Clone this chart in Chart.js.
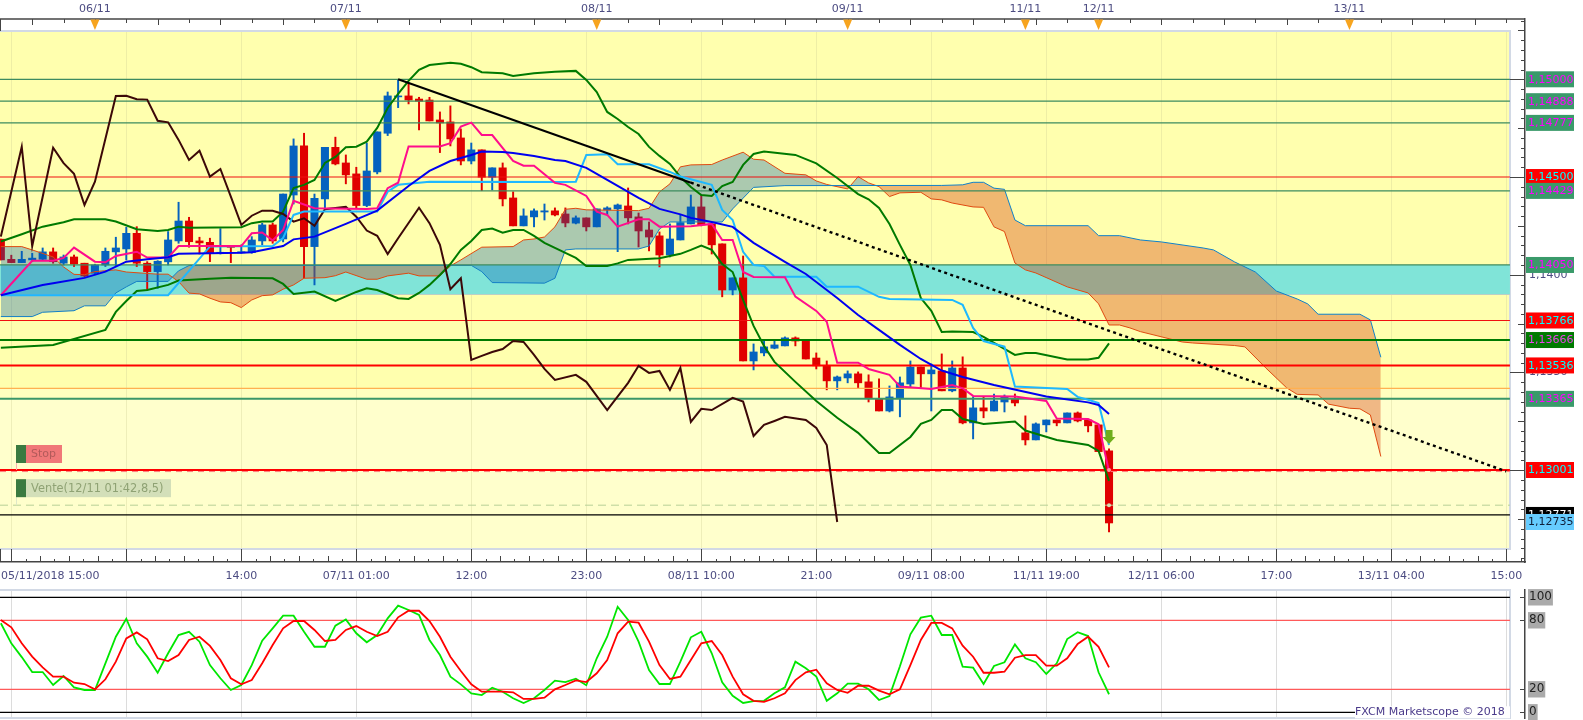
<!DOCTYPE html>
<html>
<head>
<meta charset="utf-8">
<title>EUR/USD FXCM Marketscope</title>
<script src="https://cdn.jsdelivr.net/npm/chart.js@4/dist/chart.umd.min.js"></script>
<style>
  html, body { margin: 0; padding: 0; background: #fff; overflow: hidden; }
  canvas { position: absolute; left: 0; }
  #priceChart { top: 0; }
  #stochChart { top: 585px; }
</style>
</head>
<body>
<canvas id="priceChart" width="1583" height="585"></canvas>
<canvas id="stochChart" width="1583" height="135"></canvas>
<script>
// Candles, one per bar from bar -1 to bar 105
const firstBar = -1;
const opens = [1.14182,1.14079,1.14062,1.14076,1.14079,1.14117,1.14059,1.14091,1.14059,1.14008,1.14050,1.14117,1.14132,1.14212,1.14059,1.14016,1.14066,1.14173,1.14275,1.14173,1.14166,1.14108,1.14145,1.14112,1.14113,1.14173,1.14255,1.14183,1.14408,1.14659,1.14144,1.14388,1.14652,1.14572,1.14516,1.14354,1.14526,1.14724,1.14910,1.14915,1.14899,1.14894,1.14792,1.14782,1.14700,1.14582,1.14639,1.14499,1.14547,1.14393,1.14250,1.14296,1.14321,1.14327,1.14311,1.14264,1.14291,1.14245,1.14332,1.14337,1.14352,1.14296,1.14229,1.14199,1.14101,1.14178,1.14260,1.14347,1.14260,1.14158,1.13922,1.13984,1.13559,1.13600,1.13624,1.13636,1.13677,1.13661,1.13574,1.13534,1.13457,1.13472,1.13493,1.13452,1.13363,1.13303,1.13370,1.13441,1.13528,1.13493,1.13508,1.13406,1.13523,1.13242,1.13319,1.13303,1.13349,1.13365,1.13191,1.13155,1.13232,1.13257,1.13242,1.13293,1.13257,1.13232,1.13099];
const closes = [1.14076,1.14062,1.14079,1.14085,1.14117,1.14067,1.14091,1.14055,1.13994,1.14050,1.14120,1.14137,1.14212,1.14059,1.14016,1.14069,1.14178,1.14275,1.14169,1.14163,1.14110,1.14115,1.14140,1.14118,1.14178,1.14255,1.14173,1.14413,1.14659,1.14144,1.14391,1.14652,1.14567,1.14511,1.14354,1.14531,1.14731,1.14915,1.14915,1.14894,1.14888,1.14787,1.14777,1.14695,1.14582,1.14639,1.14499,1.14547,1.14388,1.14250,1.14301,1.14327,1.14327,1.14306,1.14265,1.14291,1.14245,1.14337,1.14342,1.14357,1.14291,1.14224,1.14193,1.14101,1.14183,1.14267,1.14347,1.14255,1.14153,1.13922,1.13984,1.13559,1.13605,1.13631,1.13641,1.13677,1.13661,1.13569,1.13534,1.13457,1.13477,1.13493,1.13447,1.13370,1.13303,1.13375,1.13447,1.13528,1.13493,1.13513,1.13406,1.13523,1.13242,1.13319,1.13303,1.13354,1.13375,1.13344,1.13155,1.13237,1.13257,1.13242,1.13293,1.13252,1.13227,1.13095,1.12730];
const highs = [1.14182,1.14100,1.14120,1.14110,1.14137,1.14137,1.14101,1.14101,1.14059,1.14054,1.14137,1.14192,1.14243,1.14246,1.14067,1.14072,1.14221,1.14371,1.14294,1.14192,1.14187,1.14236,1.14145,1.14153,1.14195,1.14264,1.14264,1.14413,1.14695,1.14724,1.14413,1.14652,1.14704,1.14613,1.14550,1.14673,1.14731,1.14935,1.14997,1.14980,1.14908,1.14908,1.14833,1.14864,1.14746,1.14674,1.14639,1.14547,1.14572,1.14424,1.14337,1.14337,1.14362,1.14342,1.14342,1.14301,1.14291,1.14337,1.14348,1.14362,1.14444,1.14316,1.14270,1.14219,1.14260,1.14306,1.14408,1.14408,1.14260,1.14158,1.13984,1.14096,1.13646,1.13661,1.13661,1.13682,1.13682,1.13661,1.13600,1.13559,1.13482,1.13508,1.13503,1.13488,1.13467,1.13431,1.13477,1.13559,1.13528,1.13544,1.13595,1.13559,1.13580,1.13375,1.13375,1.13390,1.13385,1.13390,1.13278,1.13242,1.13257,1.13257,1.13293,1.13298,1.13257,1.13232,1.13109];
const lows = [1.14076,1.14062,1.14062,1.14067,1.14072,1.14059,1.14050,1.14042,1.13990,1.14000,1.14042,1.14042,1.14076,1.14042,1.13922,1.13931,1.14050,1.14161,1.14141,1.14106,1.14067,1.14106,1.14062,1.14110,1.14110,1.14153,1.14161,1.14168,1.14362,1.13984,1.13948,1.14342,1.14562,1.14465,1.14342,1.14348,1.14516,1.14712,1.14855,1.14874,1.14741,1.14787,1.14625,1.14659,1.14562,1.14567,1.14430,1.14434,1.14352,1.14250,1.14250,1.14245,1.14280,1.14301,1.14245,1.14260,1.14224,1.14245,1.14306,1.14118,1.14260,1.14142,1.14122,1.14040,1.14091,1.14178,1.14260,1.14250,1.14106,1.13887,1.13897,1.13559,1.13513,1.13585,1.13621,1.13636,1.13636,1.13569,1.13518,1.13411,1.13411,1.13447,1.13421,1.13349,1.13303,1.13298,1.13273,1.13421,1.13421,1.13303,1.13406,1.13401,1.13237,1.13160,1.13268,1.13303,1.13298,1.13329,1.13129,1.13155,1.13196,1.13227,1.13242,1.13247,1.13196,1.13095,1.12684];

// Bollinger bands
const upperBandBars = [-1,1,3,5,6,9,10,12,14,15,16,17,22,23,24,25,26,27,28,29,30,31,32,33,34,35,36,37,38,39,40,42,43,44,45,47,48,50,52,54,55,56,57,58,59,60,61,62,63,64,65,66,67,68,69,70,71,72,75,77,79,81,82,83,84,85,86,87,88,89,90,92,93,94,96,97,98,101,103,104,105];
const upperBandValues = [1.14170,1.14207,1.14246,1.14269,1.14284,1.14284,1.14272,1.14233,1.14224,1.14229,1.14246,1.14241,1.14243,1.14264,1.14272,1.14272,1.14323,1.14444,1.14460,1.14485,1.14572,1.14603,1.14652,1.14655,1.14681,1.14751,1.14853,1.14925,1.14992,1.15048,1.15073,1.15085,1.15079,1.15062,1.15036,1.15031,1.15017,1.15031,1.15038,1.15043,1.14997,1.14935,1.14833,1.14797,1.14756,1.14720,1.14654,1.14608,1.14567,1.14500,1.14449,1.14408,1.14403,1.14454,1.14475,1.14562,1.14618,1.14630,1.14613,1.14570,1.14495,1.14413,1.14386,1.14342,1.14260,1.14153,1.14050,1.13881,1.13815,1.13707,1.13710,1.13707,1.13682,1.13651,1.13590,1.13600,1.13600,1.13567,1.13567,1.13575,1.13649];
const lowerBandBars = [-1,4,9,10,11,12,13,15,16,19,21,25,26,27,29,31,33,34,35,37,38,39,40,41,42,43,44,45,46,47,48,49,50,51,53,54,55,57,58,59,62,64,65,66,67,68,69,70,71,72,73,75,77,79,81,83,84,86,87,88,89,90,91,93,96,97,100,103,104,105];
const lowerBandValues = [1.13626,1.13641,1.13718,1.13810,1.13866,1.13917,1.13922,1.13948,1.13970,1.13979,1.13985,1.13982,1.13953,1.13902,1.13914,1.13866,1.13912,1.13931,1.13922,1.13880,1.13876,1.13907,1.13948,1.13999,1.14055,1.14127,1.14173,1.14229,1.14236,1.14215,1.14229,1.14229,1.14199,1.14163,1.14112,1.14086,1.14045,1.14045,1.14058,1.14076,1.14085,1.14107,1.14127,1.14149,1.14127,1.14055,1.14014,1.13871,1.13738,1.13636,1.13554,1.13452,1.13354,1.13268,1.13191,1.13088,1.13088,1.13170,1.13237,1.13257,1.13308,1.13308,1.13262,1.13237,1.13249,1.13203,1.13155,1.13129,1.13099,1.12945];
const middleBandBars = [-1,3,4,7,9,11,13,15,16,22,23,26,27,29,32,35,38,40,42,44,45,47,48,50,52,53,55,57,59,60,62,64,65,67,69,71,74,76,79,81,83,85,87,89,91,94,99,103,104,105];
const middleBandValues = [1.13895,1.13948,1.13957,1.13984,1.14016,1.14067,1.14079,1.14090,1.14107,1.14112,1.14115,1.14147,1.14181,1.14195,1.14260,1.14328,1.14454,1.14531,1.14582,1.14613,1.14630,1.14628,1.14623,1.14608,1.14587,1.14582,1.14547,1.14485,1.14424,1.14393,1.14337,1.14309,1.14291,1.14270,1.14245,1.14163,1.14066,1.14004,1.13881,1.13794,1.13718,1.13641,1.13569,1.13510,1.13477,1.13436,1.13377,1.13347,1.13334,1.13288];

// Ichimoku lines
const tenkanBars = [-1,2,4,5,6,8,9,10,12,13,15,16,22,23,24,25,26,27,29,34,35,36,37,38,41,42,43,44,45,46,48,49,50,52,53,55,56,57,58,60,61,62,65,67,68,69,70,71,74,75,77,78,79,81,82,84,85,88,90,91,92,96,99,100,103,104,105];
const tenkanValues = [1.13895,1.14071,1.14072,1.14086,1.14139,1.14067,1.14064,1.14096,1.14118,1.14088,1.14088,1.14147,1.14147,1.14212,1.14216,1.14175,1.14229,1.14378,1.14340,1.14337,1.14340,1.14443,1.14471,1.14656,1.14656,1.14673,1.14758,1.14778,1.14715,1.14715,1.14582,1.14558,1.14558,1.14470,1.14460,1.14403,1.14323,1.14306,1.14246,1.14284,1.14284,1.14246,1.14248,1.14260,1.14178,1.14178,1.14014,1.13989,1.13987,1.13888,1.13815,1.13759,1.13550,1.13550,1.13518,1.13488,1.13428,1.13416,1.13436,1.13419,1.13380,1.13377,1.13354,1.13264,1.13262,1.13235,1.12993];
const kijunBars = [-1,15,19,25,26,27,28,35,36,37,40,53,54,55,57,58,61,63,64,67,68,69,70,71,72,73,77,78,81,83,84,90,91,92,93,95,96,101,102,103,104,105];
const kijunValues = [1.13895,1.13895,1.14145,1.14147,1.14188,1.14306,1.14323,1.14323,1.14425,1.14460,1.14476,1.14475,1.14476,1.14613,1.14617,1.14565,1.14565,1.14526,1.14503,1.14460,1.14332,1.14280,1.14117,1.14050,1.14045,1.13990,1.13990,1.13939,1.13939,1.13887,1.13876,1.13871,1.13846,1.13728,1.13661,1.13632,1.13428,1.13416,1.13375,1.13360,1.13344,1.13129];
const chikouBars = [-1,1,2,4,5,6,7,8,10,11,12,13,14,15,16,17,18,19,20,21,22,23,24,25,26,27,28,29,30,32,33,34,35,36,37,39,40,41,42,43,44,45,46,47,48,49,50,51,52,54,55,57,59,60,61,62,63,64,65,66,67,69,70,71,72,73,74,76,77,78,79];
const chikouValues = [1.14195,1.14655,1.14147,1.14650,1.14571,1.14516,1.14357,1.14476,1.14915,1.14916,1.14898,1.14896,1.14788,1.14780,1.14690,1.14587,1.14635,1.14502,1.14541,1.14400,1.14255,1.14302,1.14328,1.14327,1.14311,1.14272,1.14289,1.14250,1.14335,1.14348,1.14297,1.14226,1.14199,1.14106,1.14187,1.14343,1.14264,1.14153,1.13926,1.13982,1.13564,1.13585,1.13605,1.13620,1.13661,1.13656,1.13590,1.13518,1.13462,1.13488,1.13452,1.13308,1.13447,1.13534,1.13498,1.13508,1.13411,1.13523,1.13247,1.13314,1.13308,1.13370,1.13351,1.13175,1.13232,1.13252,1.13273,1.13257,1.13216,1.13129,1.12735];
const spanABars = [-1,1,2,4,5,6,7,8,10,11,14,15,16,17,18,19,20,21,22,23,24,25,26,27,28,30,31,32,34,35,36,38,39,41,42,43,45,48,49,50,51,52,53,54,55,60,61,62,63,64,65,67,68,70,71,72,74,76,77,78,80,81,82,83,84,85,87,88,89,90,92,93,94,95,96,97,98,101,103,104,105,106,107,108,112,113,117,118,120,122,123,125,126,128,129,130,131];
const spanAValues = [1.14144,1.14144,1.14127,1.14091,1.14040,1.14002,1.14000,1.14016,1.14025,1.14014,1.14003,1.14003,1.13965,1.13906,1.13902,1.13880,1.13861,1.13857,1.13832,1.13871,1.13893,1.13897,1.13926,1.13948,1.13982,1.13985,1.13995,1.14014,1.13977,1.13977,1.13994,1.14008,1.13994,1.13994,1.14045,1.14076,1.14141,1.14144,1.14178,1.14183,1.14193,1.14245,1.14335,1.14340,1.14332,1.14328,1.14340,1.14424,1.14465,1.14552,1.14562,1.14564,1.14587,1.14627,1.14591,1.14587,1.14519,1.14511,1.14480,1.14462,1.14439,1.14502,1.14470,1.14451,1.14400,1.14419,1.14422,1.14388,1.14383,1.14367,1.14347,1.14345,1.14245,1.14221,1.14060,1.14025,1.14009,1.13938,1.13907,1.13851,1.13743,1.13743,1.13728,1.13709,1.13656,1.13651,1.13638,1.13631,1.13523,1.13421,1.13388,1.13385,1.13338,1.13317,1.13314,1.13283,1.13070];
const spanBBars = [-1,2,3,6,7,9,10,11,12,15,16,17,44,45,46,51,52,53,54,60,61,62,63,68,69,71,74,89,91,92,93,94,95,96,97,103,104,106,108,110,114,115,117,119,121,123,124,125,129,130,131];
const spanBValues = [1.13786,1.13786,1.13808,1.13816,1.13841,1.13841,1.13907,1.13938,1.13966,1.13966,1.14020,1.14047,1.14048,1.14016,1.13960,1.13957,1.13982,1.14127,1.14132,1.14132,1.14147,1.14234,1.14270,1.14270,1.14337,1.14447,1.14456,1.14457,1.14460,1.14473,1.14473,1.14443,1.14437,1.14280,1.14251,1.14251,1.14200,1.14200,1.14178,1.14168,1.14137,1.14127,1.14066,1.14014,1.13917,1.13876,1.13851,1.13798,1.13798,1.13769,1.13578];

// Trend line, solid part then dotted projection
const trendSolidBars = [37, 65];
const trendSolidValues = [1.15000, 1.14471];
const trendDottedBars = [65, 143];
const trendDottedValues = [1.14471, 1.12994];

// Horizontal levels
const greenLevels = [1.15000, 1.14888, 1.14777, 1.14429, 1.14050];
const redLevels = [1.14500, 1.13766];
const darkGreenLevel = 1.13666;
const boldRedLevel = 1.13536;
const orangeLevel = 1.13419;
const seaGreenLevel = 1.13365;
const stopLevel = 1.13001;
const entryLevel = 1.12821;
const closeLevel = 1.12771;
const bidLevel = 1.12735;
const bandTop = 1.14050;
const bandBottom = 1.13900;

// Time axis
const timeTickBars = [0, 11, 22, 33, 44, 55, 66, 77, 88, 99, 110, 121, 132, 143];
const timeTickLabels = ['05/11/2018 15:00', '', '14:00', '07/11 01:00', '12:00', '23:00', '08/11 10:00', '21:00', '09/11 08:00', '11/11 19:00', '12/11 06:00', '17:00', '13/11 04:00', '15:00'];
const dateMarkerBars = [8, 32, 56, 80, 97, 104, 128];
const dateMarkerLabels = ['06/11', '07/11', '08/11', '09/11', '11/11', '12/11', '13/11'];
const sellSignalBar = 105;

// Stochastic, one value per bar from bar -1 to bar 105
const stochK = [77.4,60,48,35,35,23.7,31.6,21.7,19.4,19.4,42.6,65.7,81.4,60,48.4,34.5,51.3,67.2,70,61.4,41,29.6,19.4,23.7,41,62.3,73,84,84,70,57,57,75.3,80.8,68.7,60.9,67.2,81.7,92.7,89,84.6,62.9,49.8,31,24.3,16.5,15,21.4,17.9,12.2,8.1,12.2,19.4,27.5,26.3,29.2,23.5,47,65.7,91.8,80.3,61.4,36.8,24.6,24.6,44,65.2,70,51.3,26,14.4,8.1,9.8,10,16.5,21.7,44,38.3,31,10,16.5,24.9,24.9,20,10.7,14.2,40,67.8,82.3,84,67.2,67.2,39.7,38.8,24.6,40.3,43.5,59.1,47,43.5,33.3,42.6,63.7,69.6,66.3,34.8,15.7];
const stochD = [80.3,73.9,60,48.4,39.1,31,31,25.7,24.6,20,28.7,44,64.3,69.5,63.5,47,44.6,49.8,62.9,65.7,57.7,45.5,29.6,24.3,28,42.6,58.5,73,79.4,79.4,71.6,62,62.9,71.6,75,70,66.3,70,82.6,88.3,88.3,79.4,65.7,48.3,35.9,24.3,17.9,17.9,17.9,17.4,11.6,11.6,12.7,20,23.7,27.8,26.3,33.9,45.5,68.7,78.8,77.9,61.4,41,29,31,45.5,60,62,49.8,31,15.7,10,9,12.2,16.5,28,34.8,37,25.2,19.4,17,23.1,23.1,18.8,15.7,20,41,62.9,77.7,77.7,73,57.9,48.3,34.4,34.4,35.3,47.5,49.8,49.8,40.5,40.5,47,59.4,65.7,57,39.1];
const stochBounds = [100, 0];
const stochGuides = [80, 20];
const stochTicks = [0, 20, 80, 100];

// Layout of the plot inside the chart area (the gutters stay white)
const PLOT_TOP = 31;
const PLOT_RIGHT = 1510;
const PLOT_BOTTOM = 549;
const X_MIN = -1.081;
const X_MAX = 144.79;
const LEVEL_END_BAR = 143.35;
const AXIS_COLOR = '#444444';
const TEXT_COLOR = '#4c4c82';
const UP_COLOR = '#0562bf';
const DOWN_COLOR = '#e00000';
const FONT = '11px "DejaVu Sans"';

Chart.defaults.font.family = '"DejaVu Sans"';
Chart.defaults.font.size = 11;

const toPoints = (bars, values) => bars.map((x, k) => ({ x: x, y: values[k] }));
const flat = v => [{ x: X_MIN, y: v }, { x: LEVEL_END_BAR, y: v }];
const priceText = v => v.toFixed(5).replace('.', ',');

// The gutters are sized by hand, so no label padding may shrink the plot
function fitSide(s) {
  s.width = 58;
  s.paddingTop = 0;
  s.paddingBottom = 0;
}

function lineSet(data, color, width, order, extra) {
  return Object.assign({
    type: 'line',
    data: data,
    borderColor: color,
    borderWidth: width,
    pointRadius: 0,
    tension: 0,
    fill: false,
    order: order
  }, extra || {});
}

// Datasets: higher order is painted first
const candleBars = opens.map((_, k) => firstBar + k);
const candleColors = opens.map((o, k) => (closes[k] > o ? UP_COLOR : DOWN_COLOR));

const datasets = [];
const bandBottomIndex = datasets.push(lineSet(flat(bandBottom), '#cfc9c0', 1.5, 100)) - 1;
datasets.push(lineSet(flat(bandTop), 'rgba(0,0,0,0)', 0, 99, {
  fill: { target: bandBottomIndex, above: '#80e4d8', below: '#80e4d8' }
}));
datasets.push({
  type: 'bar',
  data: candleBars.map((x, k) => ({ x: x, y: [lows[k], highs[k]] })),
  backgroundColor: candleColors,
  barThickness: 1.3,
  grouped: false,
  order: 90
});
datasets.push({
  type: 'bar',
  data: candleBars.map((x, k) => ({ x: x, y: [opens[k], closes[k]] })),
  backgroundColor: candleColors,
  barThickness: 7.4,
  grouped: false,
  order: 89
});
const spanBIndex = datasets.push(lineSet(toPoints(spanBBars, spanBValues), '#1080c8', 1, 70)) - 1;
datasets.push(lineSet(toPoints(spanABars, spanAValues), '#e04a10', 1, 71, {
  fill: { target: spanBIndex, above: 'rgba(0,90,180,0.33)', below: 'rgba(212,52,0,0.35)' }
}));

greenLevels.forEach(v => datasets.push(lineSet(flat(v), '#3d8b5f', 1.2, 50)));
redLevels.forEach(v => datasets.push(lineSet(flat(v), '#f01010', 1.2, 50)));
datasets.push(lineSet(flat(darkGreenLevel), '#007a00', 2, 50));
datasets.push(lineSet(flat(boldRedLevel), '#ff0000', 2, 50));
datasets.push(lineSet(flat(orangeLevel), '#ffb050', 1.2, 50));
datasets.push(lineSet(flat(seaGreenLevel), '#3b9668', 2, 50));
datasets.push(lineSet(flat(stopLevel - 0.00008), '#ff7a7a', 1, 50, { borderDash: [6, 5] }));
datasets.push(lineSet(flat(stopLevel), '#ff0000', 2, 49));
datasets.push(lineSet(flat(entryLevel), '#b7d098', 1, 50, { borderDash: [8, 5] }));
datasets.push(lineSet(flat(closeLevel), '#000000', 1.2, 50));

datasets.push(lineSet(toPoints(upperBandBars, upperBandValues), '#007a00', 2, 30));
datasets.push(lineSet(toPoints(lowerBandBars, lowerBandValues), '#007a00', 2, 30));
datasets.push(lineSet(toPoints(chikouBars, chikouValues), '#3c0808', 2, 29));
datasets.push(lineSet(toPoints(kijunBars, kijunValues), '#1eb8ff', 2, 28));
datasets.push(lineSet(toPoints(tenkanBars, tenkanValues), '#ff0d8c', 2, 27));
datasets.push(lineSet(toPoints(middleBandBars, middleBandValues), '#0000f0', 2, 26));
datasets.push(lineSet(toPoints(trendSolidBars, trendSolidValues), '#000000', 2, 25));
datasets.push(lineSet(toPoints(trendDottedBars, trendDottedValues), '#000000', 2.4, 25, { borderDash: [3, 3.4] }));

function drawTick(ctx, x1, y1, x2, y2, color, width) {
  ctx.strokeStyle = color;
  ctx.lineWidth = width || 1;
  ctx.beginPath();
  ctx.moveTo(x1, y1);
  ctx.lineTo(x2, y2);
  ctx.stroke();
}

// Yellow backdrop, borders and the vertical hour lines under the data
const backdropPlugin = {
  id: 'backdrop',
  beforeDraw(chart) {
    const ctx = chart.ctx, x = chart.scales.x, y = chart.scales.y;
    const shade1 = y.getPixelForValue(orangeLevel);
    const shade2 = y.getPixelForValue(seaGreenLevel);
    ctx.save();
    ctx.fillStyle = '#ffffae';
    ctx.fillRect(0, PLOT_TOP, PLOT_RIGHT, shade1 - PLOT_TOP);
    ctx.fillStyle = '#ffffbf';
    ctx.fillRect(0, shade1, PLOT_RIGHT, shade2 - shade1);
    ctx.fillStyle = '#ffffcc';
    ctx.fillRect(0, shade2, PLOT_RIGHT, PLOT_BOTTOM - shade2);
    timeTickBars.forEach(b => {
      const px = Math.round(x.getPixelForValue(b)) + 0.5;
      drawTick(ctx, px, PLOT_TOP, px, PLOT_BOTTOM, 'rgba(205,205,150,0.35)');
    });
    ctx.strokeStyle = '#d2d9e5';
    ctx.lineWidth = 2;
    ctx.beginPath();
    ctx.moveTo(0, PLOT_TOP);
    ctx.lineTo(PLOT_RIGHT, PLOT_TOP);
    ctx.lineTo(PLOT_RIGHT, PLOT_BOTTOM);
    ctx.lineTo(0, PLOT_BOTTOM);
    ctx.stroke();
    ctx.restore();
  }
};

// Ruler ticks, date flags, stop and entry tags, price tags
const overlayPlugin = {
  id: 'overlay',
  afterDraw(chart) {
    const ctx = chart.ctx, x = chart.scales.x, y = chart.scales.y;
    const area = chart.chartArea;
    ctx.save();
    ctx.font = FONT;
    ctx.textBaseline = 'middle';

    // bottom axis ticks
    for (let k = 0; ; k++) {
      const px = Math.round(x.getPixelForValue(k * 11 / 8)) + 0.5;
      if (px > area.right) break;
      const len = k % 8 === 0 ? 13 : (k % 2 === 0 ? 6 : 3);
      drawTick(ctx, px, area.bottom, px, area.bottom - len, AXIS_COLOR);
    }
    drawTick(ctx, 0.5, area.bottom, 0.5, PLOT_BOTTOM, AXIS_COLOR);
    ctx.fillStyle = TEXT_COLOR;
    ctx.textAlign = 'left';
    ctx.fillText(timeTickLabels[0], 1, 576);

    // price axis ticks
    y.ticks.forEach(t => {
      const p = Math.round(t.value * 10000);
      const py = Math.round(y.getPixelForValue(t.value)) + 0.5;
      const len = p % 50 === 0 ? 15 : (p % 25 === 0 ? 7 : 4);
      drawTick(ctx, area.right, py, area.right - len, py, AXIS_COLOR);
    });

    // top ruler
    drawTick(ctx, 0, 19, area.right, 19, AXIS_COLOR, 1.5);
    drawTick(ctx, 0.5, 19, 0.5, 31, AXIS_COLOR);
    for (let k = 1; ; k++) {
      const px = Math.round(x.getPixelForValue(firstBar + 3 * k)) + 0.5;
      if (px > area.right) break;
      drawTick(ctx, px, 19, px, k % 2 ? 25 : 23, AXIS_COLOR);
    }
    ctx.textAlign = 'center';
    dateMarkerBars.forEach((b, k) => {
      const px = x.getPixelForValue(b);
      ctx.fillStyle = '#f7a41e';
      ctx.beginPath();
      ctx.moveTo(px - 4.5, 19.5);
      ctx.lineTo(px + 4.5, 19.5);
      ctx.lineTo(px, 30);
      ctx.closePath();
      ctx.fill();
      ctx.fillStyle = TEXT_COLOR;
      ctx.fillText(dateMarkerLabels[k], px, 9);
    });

    // order tags on the left
    const stopY = y.getPixelForValue(stopLevel);
    const entryY = y.getPixelForValue(entryLevel);
    drawTick(ctx, 16.5, stopY - 7, 16.5, stopY, '#ffb0b0');
    drawTick(ctx, 16.5, entryY - 8, 16.5, entryY, '#dfe8c8');
    ctx.textAlign = 'left';
    ctx.fillStyle = '#f07878';
    ctx.fillRect(26, stopY - 25, 36, 18);
    ctx.fillStyle = '#3a7a40';
    ctx.fillRect(16, stopY - 25, 10, 18);
    ctx.fillStyle = '#b25a5a';
    ctx.fillText('Stop', 31, stopY - 15.5);
    ctx.fillStyle = '#d3dfb9';
    ctx.fillRect(26, entryY - 26, 145, 18);
    ctx.fillStyle = '#3a7a40';
    ctx.fillRect(16, entryY - 26, 10, 18);
    ctx.fillStyle = '#8fa274';
    ctx.font = '11.4px "DejaVu Sans"';
    ctx.fillText('Vente(12/11 01:42,8,5)', 31, entryY - 16.5);
    ctx.font = FONT;

    // sell arrow and pins on the last candle
    const sx = x.getPixelForValue(sellSignalBar);
    const top = y.getPixelForValue(highs[highs.length - 1]) - 19;
    ctx.fillStyle = '#6fae1c';
    ctx.beginPath();
    ctx.moveTo(sx - 3.5, top);
    ctx.lineTo(sx + 3.5, top);
    ctx.lineTo(sx + 3.5, top + 7);
    ctx.lineTo(sx + 6.5, top + 7);
    ctx.lineTo(sx, top + 14);
    ctx.lineTo(sx - 6.5, top + 7);
    ctx.lineTo(sx - 3.5, top + 7);
    ctx.closePath();
    ctx.fill();
    [[stopY, '#ff9aa0'], [entryY, '#d8dcb0']].forEach(pin => {
      ctx.fillStyle = pin[1];
      ctx.beginPath();
      ctx.arc(sx, pin[0], 2, 0, Math.PI * 2);
      ctx.fill();
    });

    // price tags at the right, later ones cover earlier ones
    const tag = (v, bg, fg) => {
      const py = y.getPixelForValue(v);
      ctx.fillStyle = bg;
      ctx.fillRect(area.right + 1, py - 8, 48, 16);
      ctx.fillStyle = fg;
      ctx.fillText(priceText(v), area.right + 3, py + 0.5);
    };
    ctx.textAlign = 'left';
    redLevels.concat([boldRedLevel, stopLevel]).forEach(v => tag(v, '#ff0000', '#00ffff'));
    greenLevels.concat([seaGreenLevel]).forEach(v => tag(v, '#3a9a6a', '#ff00ff'));
    tag(darkGreenLevel, '#007a00', '#e845e8');
    tag(closeLevel, '#000000', '#ffffff');
    tag(bidLevel, '#66ccff', '#10203a');
    ctx.restore();
  }
};

new Chart(document.getElementById('priceChart'), {
  type: 'bar',
  data: { datasets: datasets },
  plugins: [backdropPlugin, overlayPlugin],
  options: {
    responsive: false,
    animation: false,
    events: [],
    devicePixelRatio: 1,
    layout: { autoPadding: false, padding: { top: 19, left: 0, right: 0, bottom: 0 } },
    plugins: { legend: { display: false }, tooltip: { enabled: false } },
    scales: {
      x: {
        type: 'linear',
        offset: false,
        min: X_MIN,
        max: X_MAX,
        afterFit: s => { s.height = 23; s.paddingLeft = 0; s.paddingRight = 0; },
        afterBuildTicks: s => { s.ticks = timeTickBars.map(b => ({ value: b })); },
        grid: { display: false, drawTicks: false, offset: false },
        border: { color: AXIS_COLOR, width: 1.5 },
        ticks: {
          autoSkip: false,
          maxRotation: 0,
          minRotation: 0,
          padding: 8,
          color: TEXT_COLOR,
          callback: v => (v === 0 ? '' : timeTickLabels[timeTickBars.indexOf(v)])
        }
      },
      y: {
        type: 'linear',
        position: 'right',
        min: 1.125303,
        max: 1.153085,
        afterFit: fitSide,
        grid: { display: false, drawTicks: false },
        border: { color: AXIS_COLOR, width: 1.5 },
        ticks: {
          stepSize: 0.0005,
          autoSkip: false,
          includeBounds: false,
          padding: 4,
          color: TEXT_COLOR,
          callback: v => (Math.round(v * 10000) % 50 === 0 ? v.toFixed(4).replace('.', ',') : '')
        }
      }
    }
  }
});

// Stochastic panel
const stochBackdrop = {
  id: 'stochBackdrop',
  beforeDraw(chart) {
    const ctx = chart.ctx, x = chart.scales.x;
    ctx.save();
    timeTickBars.forEach(b => {
      const px = Math.round(x.getPixelForValue(b)) + 0.5;
      drawTick(ctx, px, 5, px, 133, '#dcdcdc');
    });
    ctx.strokeStyle = '#d2d9e5';
    ctx.lineWidth = 2;
    ctx.beginPath();
    ctx.moveTo(0, 5);
    ctx.lineTo(PLOT_RIGHT, 5);
    ctx.lineTo(PLOT_RIGHT, 133);
    ctx.lineTo(0, 133);
    ctx.stroke();
    ctx.restore();
  }
};

const stochOverlay = {
  id: 'stochOverlay',
  afterDraw(chart) {
    const ctx = chart.ctx, y = chart.scales.y, area = chart.chartArea;
    ctx.save();
    stochTicks.forEach(v => {
      const py = Math.round(y.getPixelForValue(v)) + 0.5;
      drawTick(ctx, area.right, py, area.right - 5, py, AXIS_COLOR);
    });
    ctx.font = FONT;
    ctx.textBaseline = 'middle';
    ctx.textAlign = 'left';
    const py = y.getPixelForValue(0);
    ctx.fillStyle = '#ffffff';
    ctx.fillRect(1355, py - 6, 155, 12);
    ctx.fillStyle = '#4a3a8a';
    ctx.fillText('FXCM Marketscope © 2018', 1355, py);
    ctx.restore();
  }
};

const stochFlat = v => [{ x: X_MIN, y: v }, { x: LEVEL_END_BAR, y: v }];
const stochSets = [];
stochBounds.forEach(v => stochSets.push(lineSet(stochFlat(v), '#000000', 1.3, 20)));
stochGuides.forEach(v => stochSets.push(lineSet(stochFlat(v), '#ff5a5a', 1.3, 20)));
stochSets.push(lineSet(toPoints(candleBars, stochK), '#00e600', 1.8, 11));
stochSets.push(lineSet(toPoints(candleBars, stochD), '#ff0000', 1.8, 10));

new Chart(document.getElementById('stochChart'), {
  type: 'line',
  data: { datasets: stochSets },
  plugins: [stochBackdrop, stochOverlay],
  options: {
    responsive: false,
    animation: false,
    events: [],
    devicePixelRatio: 1,
    layout: { autoPadding: false, padding: { top: 5, left: 0, right: 0, bottom: 2 } },
    plugins: { legend: { display: false }, tooltip: { enabled: false } },
    scales: {
      x: { type: 'linear', min: X_MIN, max: X_MAX, display: false },
      y: {
        type: 'linear',
        position: 'right',
        min: -4.96,
        max: 106.35,
        afterFit: fitSide,
        afterBuildTicks: s => { s.ticks = stochTicks.map(v => ({ value: v })); },
        grid: { display: false, drawTicks: false },
        border: { color: AXIS_COLOR, width: 1.5 },
        ticks: {
          autoSkip: false,
          padding: 4,
          color: '#222222',
          font: { size: 12 },
          showLabelBackdrop: true,
          backdropColor: '#aaaaaa',
          backdropPadding: 1
        }
      }
    }
  }
});
</script>
</body>
</html>
